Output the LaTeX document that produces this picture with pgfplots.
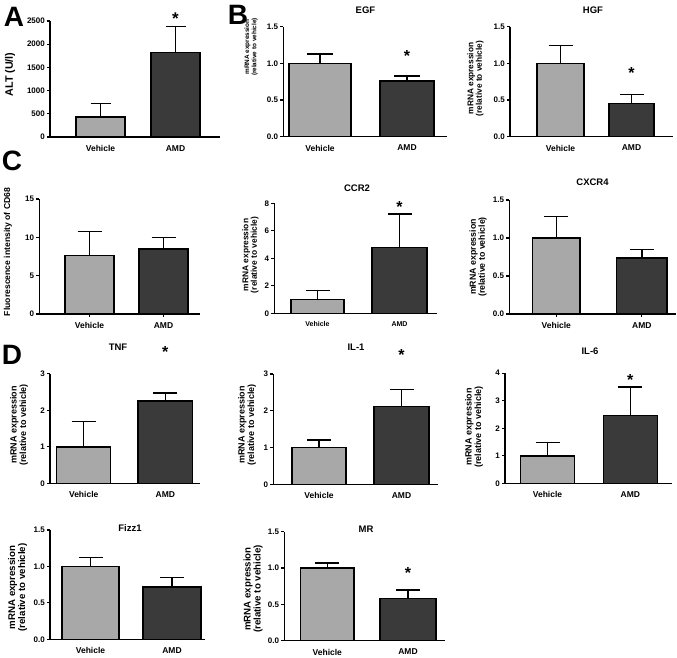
\documentclass[border=0pt]{standalone}
\usepackage{fontspec}
\setmainfont{Liberation Sans}
\usepackage{pgfplots}
\pgfplotsset{compat=1.18}
\definecolor{veh}{HTML}{A8A8A8}
\definecolor{amd}{HTML}{3A3A3A}
\newcommand{\fs}[1]{\bfseries\fontsize{#1}{#1}\selectfont}
\pgfplotsset{
  gp/.style={
    scale only axis, anchor=south west, clip=false,
    ybar, bar shift=0pt,
    axis x line*=bottom, axis y line*=left,
    axis line style={line width=1.4pt, black},
    xmin=0, ymin=0,
    tick align=outside, major tick length=3pt,
    tick style={line width=1.2pt, black},
    xtick style={draw=none},
    yticklabel style={font=\fs{8}, inner sep=0pt, xshift=-2pt},
    xticklabel style={font=\fs{8.5}, inner sep=0pt, yshift=-5pt},
    xticklabels={Vehicle,AMD},
  },
  vehbar/.style={fill=veh, draw=black, line width=1.5pt,
    error bars/y dir=plus, error bars/y explicit,
    error bars/error bar style={line width=1.4pt, black},
    error bars/error mark options={rotate=90, line width=1.4pt, black, mark size=#1pt}},
  amdbar/.style={fill=amd, draw=black, line width=1.5pt,
    error bars/y dir=plus, error bars/y explicit,
    error bars/error bar style={line width=1.4pt, black},
    error bars/error mark options={rotate=90, line width=1.4pt, black, mark size=#1pt}},
}
\begin{document}
\begin{tikzpicture}[x=1pt,y=1pt]
\useasboundingbox (0,0) rectangle (677,657);
% ---------- A ----------
\begin{axis}[gp, at={(50pt,520pt)}, width=170pt, height=116pt, xmax=170, ymax=2500,
  ytick={0,500,1000,1500,2000,2500}, yticklabels={0,500,1000,1500,2000,2500},
  xtick={50.5,125.5}]
\addplot[vehbar=10, bar width=49] coordinates {(50.5,430) +- (0,290)};
\addplot[amdbar=10, bar width=49] coordinates {(125.5,1825) +- (0,560)};
\node[anchor=north, inner sep=0pt, font=\fs{17}] at (axis cs:125.5,2672) {*};
\end{axis}
% ---------- B EGF ----------
\begin{axis}[gp, at={(283.3pt,520.3pt)}, width=163.4pt, height=110pt, xmax=163.4, ymax=1.5,
  ytick={0,0.5,1,1.5}, yticklabels={0.0,0.5,1.0,1.5}, xtick={36.7,123.7}]
\addplot[vehbar=13, bar width=62] coordinates {(36.7,1.0) +- (0,0.13)};
\addplot[amdbar=13, bar width=54] coordinates {(123.7,0.76) +- (0,0.07)};
\node[anchor=north, inner sep=0pt, font=\fs{16}] at (axis cs:123.7,1.182) {*};
\end{axis}
% ---------- B HGF ----------
\begin{axis}[gp, at={(510pt,520.3pt)}, width=163pt, height=110pt, xmax=163, ymax=1.5,
  ytick={0,0.5,1,1.5}, yticklabels={0.0,0.5,1.0,1.5}, xtick={50.5,121.5}]
\addplot[vehbar=12, bar width=47] coordinates {(50.5,1.0) +- (0,0.24)};
\addplot[amdbar=12, bar width=45] coordinates {(121.5,0.45) +- (0,0.125)};
\node[anchor=north, inner sep=0pt, font=\fs{16}] at (axis cs:121.5,0.95) {*};
\end{axis}
% ---------- C CD68 ----------
\begin{axis}[gp, at={(39.3pt,343pt)}, width=160.7pt, height=115pt, xmax=160.7, ymax=15,
  ytick={0,5,10,15}, yticklabels={0,5,10,15}, xtick={50.2,124.2},
  xtick style={draw}]
\addplot[vehbar=12, bar width=49] coordinates {(50.2,7.6) +- (0,3.2)};
\addplot[amdbar=12, bar width=49] coordinates {(124.2,8.5) +- (0,1.5)};
\end{axis}
% ---------- C CCR2 ----------
\begin{axis}[gp, at={(274.3pt,343.7pt)}, width=162.7pt, height=110pt, xmax=162.7, ymax=8,
  ytick={0,2,4,6,8}, yticklabels={0,2,4,6,8}, xtick={43.2,125.2},
  xticklabel style={font=\fs{7}}]
\addplot[vehbar=12, bar width=53] coordinates {(43.2,1.0) +- (0,0.64)};
\addplot[amdbar=12, bar width=55] coordinates {(125.2,4.8) +- (0,2.42)};
\node[anchor=north, inner sep=0pt, font=\fs{16}] at (axis cs:125.2,8.17) {*};
\end{axis}
% ---------- C CXCR4 ----------
\begin{axis}[gp, at={(509.3pt,343pt)}, width=166.4pt, height=114pt, xmax=166.4, ymax=1.5,
  ytick={0,0.5,1,1.5}, yticklabels={0.0,0.5,1.0,1.5}, xtick={47,132.5},
  xtick style={draw}]
\addplot[vehbar=12, bar width=47.3] coordinates {(47,1.0) +- (0,0.28)};
\addplot[amdbar=12, bar width=50.3] coordinates {(132.5,0.74) +- (0,0.11)};
\end{axis}
% ---------- D TNF ----------
\begin{axis}[gp, at={(50pt,173.7pt)}, width=150pt, height=109.5pt, xmax=150, ymax=3,
  ytick={0,1,2,3}, yticklabels={0,1,2,3}, xtick={33.7,115.3}]
\addplot[vehbar=12, bar width=54] coordinates {(33.7,1.0) +- (0,0.7)};
\addplot[amdbar=12, bar width=54.7] coordinates {(115.3,2.25) +- (0,0.22)};
\node[anchor=north, inner sep=0pt, font=\fs{16}] at (axis cs:115.3,3.75) {*};
\end{axis}
% ---------- D IL-1 ----------
\begin{axis}[gp, at={(273.3pt,172.7pt)}, width=164.7pt, height=110.3pt, xmax=164.7, ymax=3,
  ytick={0,1,2,3}, yticklabels={0,1,2,3}, xtick={45.7,128.2}]
\addplot[vehbar=12, bar width=54] coordinates {(45.7,1.0) +- (0,0.2)};
\addplot[amdbar=12, bar width=55] coordinates {(128.2,2.11) +- (0,0.47)};
\node[anchor=north, inner sep=0pt, font=\fs{16}] at (axis cs:128.2,3.66) {*};
\end{axis}
% ---------- D IL-6 ----------
\begin{axis}[gp, at={(505pt,173.7pt)}, width=166.7pt, height=110.1pt, xmax=166.7, ymax=4,
  ytick={0,1,2,3,4}, yticklabels={0,1,2,3,4}, xtick={42.5,125.3}]
\addplot[vehbar=12, bar width=53.6] coordinates {(42.5,1.0) +- (0,0.48)};
\addplot[amdbar=12, bar width=54] coordinates {(125.3,2.46) +- (0,1.04)};
\node[anchor=north, inner sep=0pt, font=\fs{16}] at (axis cs:125.3,3.97) {*};
\end{axis}
% ---------- D Fizz1 ----------
\begin{axis}[gp, at={(50pt,17.7pt)}, width=155pt, height=109.3pt, xmax=155, ymax=1.5,
  ytick={0,0.5,1,1.5}, yticklabels={0.0,0.5,1.0,1.5}, xtick={40.5,122}]
\addplot[vehbar=12, bar width=57] coordinates {(40.5,1.0) +- (0,0.12)};
\addplot[amdbar=12, bar width=58] coordinates {(122,0.72) +- (0,0.13)};
\end{axis}
% ---------- D MR ----------
\begin{axis}[gp, at={(284.3pt,16.3pt)}, width=160.7pt, height=109pt, xmax=160.7, ymax=1.5,
  ytick={0,0.5,1,1.5}, yticklabels={0.0,0.5,1.0,1.5}, xtick={43,123.7}]
\addplot[vehbar=12, bar width=53.3] coordinates {(43,1.0) +- (0,0.07)};
\addplot[amdbar=12, bar width=56] coordinates {(123.7,0.58) +- (0,0.12)};
\node[anchor=north, inner sep=0pt, font=\fs{16}] at (axis cs:123.7,1.014) {*};
\end{axis}
% ---------- panel letters ----------
\node[font=\fs{28}] at (14,640) {A};
\node[font=\fs{28}] at (238,642) {B};
\node[font=\fs{28}] at (12,496) {C};
\node[font=\fs{28}] at (12,302) {D};
% ---------- titles ----------
\node[font=\fs{9.5}] at (365.5,646.5) {EGF};
\node[font=\fs{9.5}] at (593,647) {HGF};
\node[font=\fs{9.5}] at (357,468.5) {CCR2};
\node[font=\fs{9.5}] at (592.5,474.5) {CXCR4};
\node[font=\fs{9.5}] at (118,310) {TNF};
\node[font=\fs{9.5}] at (356,310) {IL-1};
\node[font=\fs{9.5}] at (590,306) {IL-6};
\node[font=\fs{9.5}] at (130,129) {Fizz1};
\node[font=\fs{9.5}] at (366,128) {MR};
% ---------- y labels ----------
\node[rotate=90, font=\fs{10.8}] at (10,582.5) {ALT (U/l)};
\node[rotate=90, align=center, font=\bfseries\fontsize{6.4}{7.2}\selectfont] at (251,610) {mRNA expression\\(relative to vehicle)};
\node[rotate=90, align=center, font=\bfseries\fontsize{8.3}{8.5}\selectfont] at (475.5,578.5) {mRNA expression\\(relative to vehicle)};
\node[rotate=90, font=\fs{8.6}] at (8,405) {Fluorescence intensity of CD68};
\node[rotate=90, align=center, font=\bfseries\fontsize{8.4}{8.6}\selectfont] at (250.5,402) {mRNA expression\\(relative to vehicle)};
\node[rotate=90, align=center, font=\bfseries\fontsize{8.8}{9}\selectfont] at (478,400) {mRNA expression\\(relative to vehicle)};
\node[rotate=90, align=center, font=\bfseries\fontsize{9}{9.5}\selectfont] at (19,232) {mRNA expression\\(relative to vehicle)};
\node[rotate=90, align=center, font=\bfseries\fontsize{9}{9.5}\selectfont] at (247,232) {mRNA expression\\(relative to vehicle)};
\node[rotate=90, align=center, font=\bfseries\fontsize{9}{9.5}\selectfont] at (474,230) {mRNA expression\\(relative to vehicle)};
\node[rotate=90, align=center, font=\bfseries\fontsize{9.7}{10}\selectfont] at (17.5,69.5) {mRNA expression\\(relative to vehicle)};
\node[rotate=90, align=center, font=\bfseries\fontsize{9.7}{10}\selectfont] at (253,68) {mRNA expression\\(relative to vehicle)};
\end{tikzpicture}
\end{document}
